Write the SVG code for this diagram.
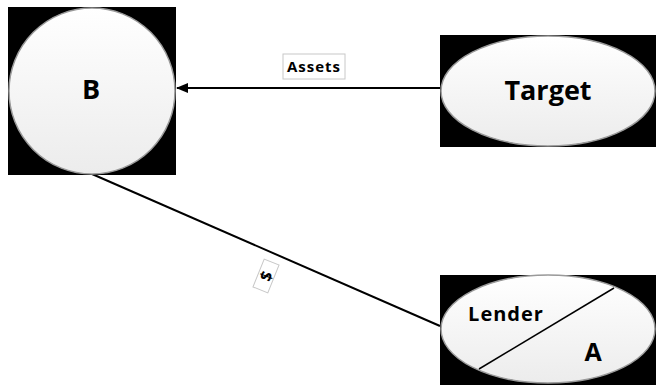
<svg xmlns="http://www.w3.org/2000/svg" width="656" height="385" viewBox="0 0 656 385">
<defs>
<linearGradient id="g" x1="0" y1="0" x2="0" y2="1">
<stop offset="0" stop-color="#ffffff"/>
<stop offset="1" stop-color="#ececec"/>
</linearGradient>
<marker id="ah" markerWidth="12" markerHeight="10" refX="11" refY="5" orient="auto" markerUnits="userSpaceOnUse">
<path d="M0,0 L12,5 L0,10 Z" fill="#000"/>
</marker>
<style>
.bg{fill:#000}
.shape{fill:url(#g);stroke:#9a9a9a;stroke-width:1.5}
.t{font-family:"Open Sans","Liberation Sans",sans-serif;font-weight:bold;fill:#000;text-anchor:middle}
.lbl{fill:#fff;stroke:#c8c8c8;stroke-width:1}
.conn{stroke:#000;stroke-width:2;fill:none}
</style>
</defs>
<rect width="656" height="385" fill="#fff"/>
<g id="connectors">
<line class="conn" x1="440" y1="88" x2="177" y2="88" marker-end="url(#ah)"/>
<line class="conn" x1="92" y1="174" x2="440" y2="326"/>
<rect class="lbl" x="283" y="54" width="62" height="25"/>
<text class="t" x="314" y="72" font-size="15" letter-spacing="1">Assets</text>
<g transform="translate(266,276) rotate(-68)">
<rect class="lbl" x="-15" y="-8" width="30" height="16"/>
<text class="t" x="0" y="6" font-size="16">$</text>
</g>
</g>
<g id="B">
<rect class="bg" x="8" y="7" width="168" height="168"/>
<circle class="shape" cx="92" cy="91" r="83"/>
<text class="t" x="91" y="99" font-size="27">B</text>
</g>
<g id="Target">
<rect class="bg" x="440" y="35" width="216" height="112"/>
<ellipse class="shape" cx="548" cy="91" rx="107" ry="55"/>
<text class="t" x="548" y="100" font-size="27">Target</text>
</g>
<g id="Lender">
<rect class="bg" x="440" y="275" width="216" height="110"/>
<ellipse class="shape" cx="548" cy="329" rx="107" ry="54"/>
<line x1="614" y1="288" x2="479" y2="369" stroke="#000" stroke-width="1.5"/>
<text class="t" x="506" y="321" font-size="20" letter-spacing="1">Lender</text>
<text class="t" x="593" y="361" font-size="25">A</text>
</g>
</svg>
